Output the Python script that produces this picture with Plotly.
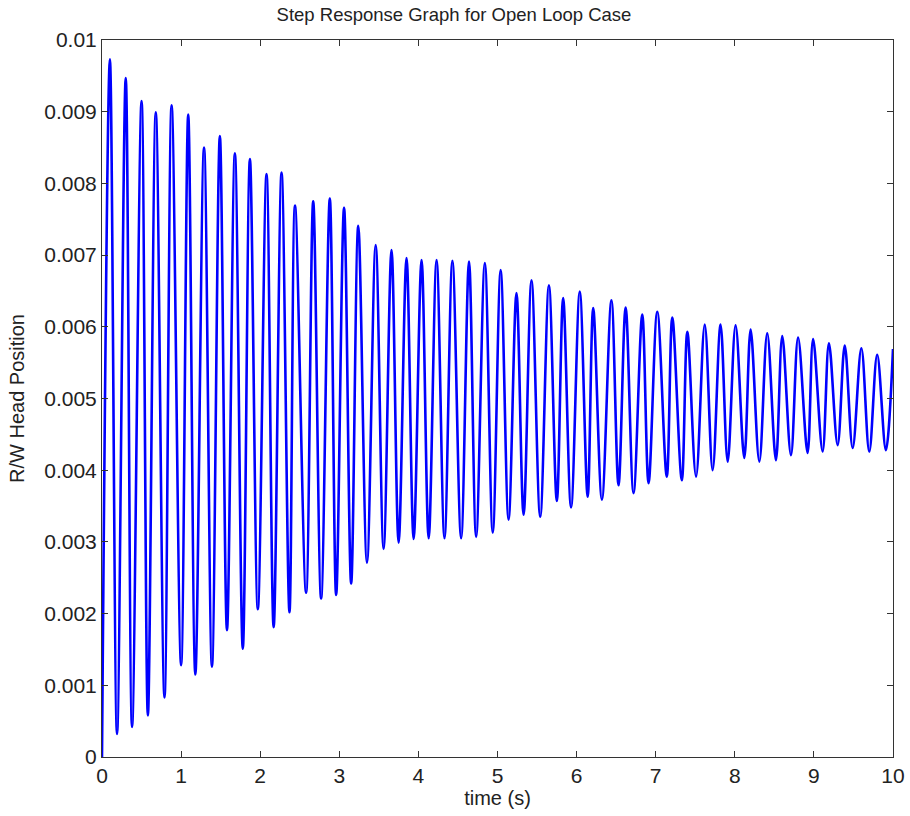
import plotly.graph_objects as go

# Peaks (local maxima)
peak_t = [0.10, 0.30, 0.50, 0.68, 0.88, 1.09, 1.29, 1.49, 1.68, 1.87,
          2.08, 2.27, 2.44, 2.67, 2.88, 3.06, 3.24, 3.46, 3.66, 3.85,
          4.04, 4.23, 4.43, 4.64, 4.84, 5.04, 5.24, 5.43, 5.65, 5.83,
          6.04, 6.21, 6.44, 6.62, 6.83, 7.02, 7.21, 7.40, 7.62, 7.82,
          8.01, 8.20, 8.41, 8.60, 8.80, 8.99, 9.19, 9.39, 9.60, 9.80, 10.0]
peak_y = [0.00973, 0.00947, 0.00915, 0.00899, 0.00909, 0.00896, 0.00850, 0.00866, 0.00842, 0.00834,
          0.00813, 0.00815, 0.00769, 0.00775, 0.00779, 0.00766, 0.00741, 0.00714, 0.00707, 0.00696,
          0.00693, 0.00693, 0.00692, 0.00691, 0.00689, 0.00679, 0.00647, 0.00665, 0.00658, 0.00640,
          0.00649, 0.00626, 0.00637, 0.00627, 0.00617, 0.00621, 0.00613, 0.00593, 0.00603, 0.00603,
          0.00602, 0.00596, 0.00591, 0.00587, 0.00585, 0.00583, 0.00577, 0.00574, 0.00570, 0.00561, 0.00569]

# Troughs (local minima)
trough_t = [0.19, 0.38, 0.58, 0.79, 1.00, 1.18, 1.39, 1.58, 1.78, 1.97,
            2.17, 2.37, 2.58, 2.77, 2.96, 3.15, 3.35, 3.56, 3.75, 3.94,
            4.13, 4.33, 4.54, 4.73, 4.94, 5.14, 5.33, 5.54, 5.75, 5.93,
            6.14, 6.32, 6.53, 6.72, 6.91, 7.14, 7.33, 7.51, 7.72, 7.91,
            8.12, 8.31, 8.52, 8.71, 8.92, 9.11, 9.30, 9.49, 9.70, 9.91]
trough_y = [0.00032, 0.00042, 0.00058, 0.00083, 0.00128, 0.00115, 0.00126, 0.00177, 0.00151, 0.00206,
            0.00181, 0.00202, 0.00229, 0.00221, 0.00226, 0.00242, 0.00271, 0.00290, 0.00299, 0.00304,
            0.00305, 0.00305, 0.00305, 0.00307, 0.00313, 0.00331, 0.00338, 0.00335, 0.00357, 0.00348,
            0.00363, 0.00359, 0.00379, 0.00368, 0.00382, 0.00391, 0.00386, 0.00391, 0.00400, 0.00412,
            0.00417, 0.00412, 0.00414, 0.00421, 0.00424, 0.00426, 0.00435, 0.00431, 0.00426, 0.00428]

start_t = [0.0]
start_y = [0.0]

x_ticks = [0, 1, 2, 3, 4, 5, 6, 7, 8, 9, 10]
y_ticks = [0, 0.001, 0.002, 0.003, 0.004, 0.005, 0.006, 0.007, 0.008, 0.009, 0.01]
y_ticklabels = ["0", "0.001", "0.002", "0.003", "0.004", "0.005", "0.006", "0.007", "0.008", "0.009", "0.01"]

pts = sorted(zip(start_t + peak_t + trough_t, start_y + peak_y + trough_y))
t = [p[0] for p in pts]
y = [p[1] for p in pts]

fig = go.Figure()
fig.add_trace(go.Scatter(x=t, y=y, mode="lines",
                         line=dict(color="#0000FF", width=2.6, shape="spline", smoothing=1.0),
                         showlegend=False, hoverinfo="skip"))

font = "Liberation Sans, Arial, sans-serif"
W, H = 910, 816
fig.update_layout(
    width=W, height=H,
    margin=dict(l=102, r=17, t=40, b=59, autoexpand=False),
    paper_bgcolor="white", plot_bgcolor="white",
    font=dict(family=font, color="#222222", size=20),
    title=dict(text="Step Response Graph for Open Loop Case", x=454 / W, xanchor="center",
               y=1 - 15 / H, yanchor="middle", yref="container",
               font=dict(size=18.5, color="#222222")),
    xaxis=dict(range=[0, 10], tickvals=x_ticks, ticks="inside", ticklen=6, tickcolor="#333",
               showline=True, linecolor="#333", linewidth=1, mirror="ticks", automargin=False,
               showgrid=False, zeroline=False, tickfont=dict(size=21),
               title=dict(text="time (s)", font=dict(size=20), standoff=4)),
    yaxis=dict(range=[0, 0.01], tickvals=y_ticks, ticktext=y_ticklabels, ticks="inside", ticklen=6,
               tickcolor="#333", showline=True, linecolor="#333", linewidth=1, mirror="ticks",
               automargin=False,
               showgrid=False, zeroline=False, tickfont=dict(size=21),
               title=dict(text="R/W Head Position", font=dict(size=20), standoff=14)),
)

# remove the default 8px page margin so the 910x816 figure fills the window exactly
fig.write_html("out.html", config={"displayModeBar": False},
               post_script="document.body.style.margin='0px';document.body.style.overflow='hidden';")
